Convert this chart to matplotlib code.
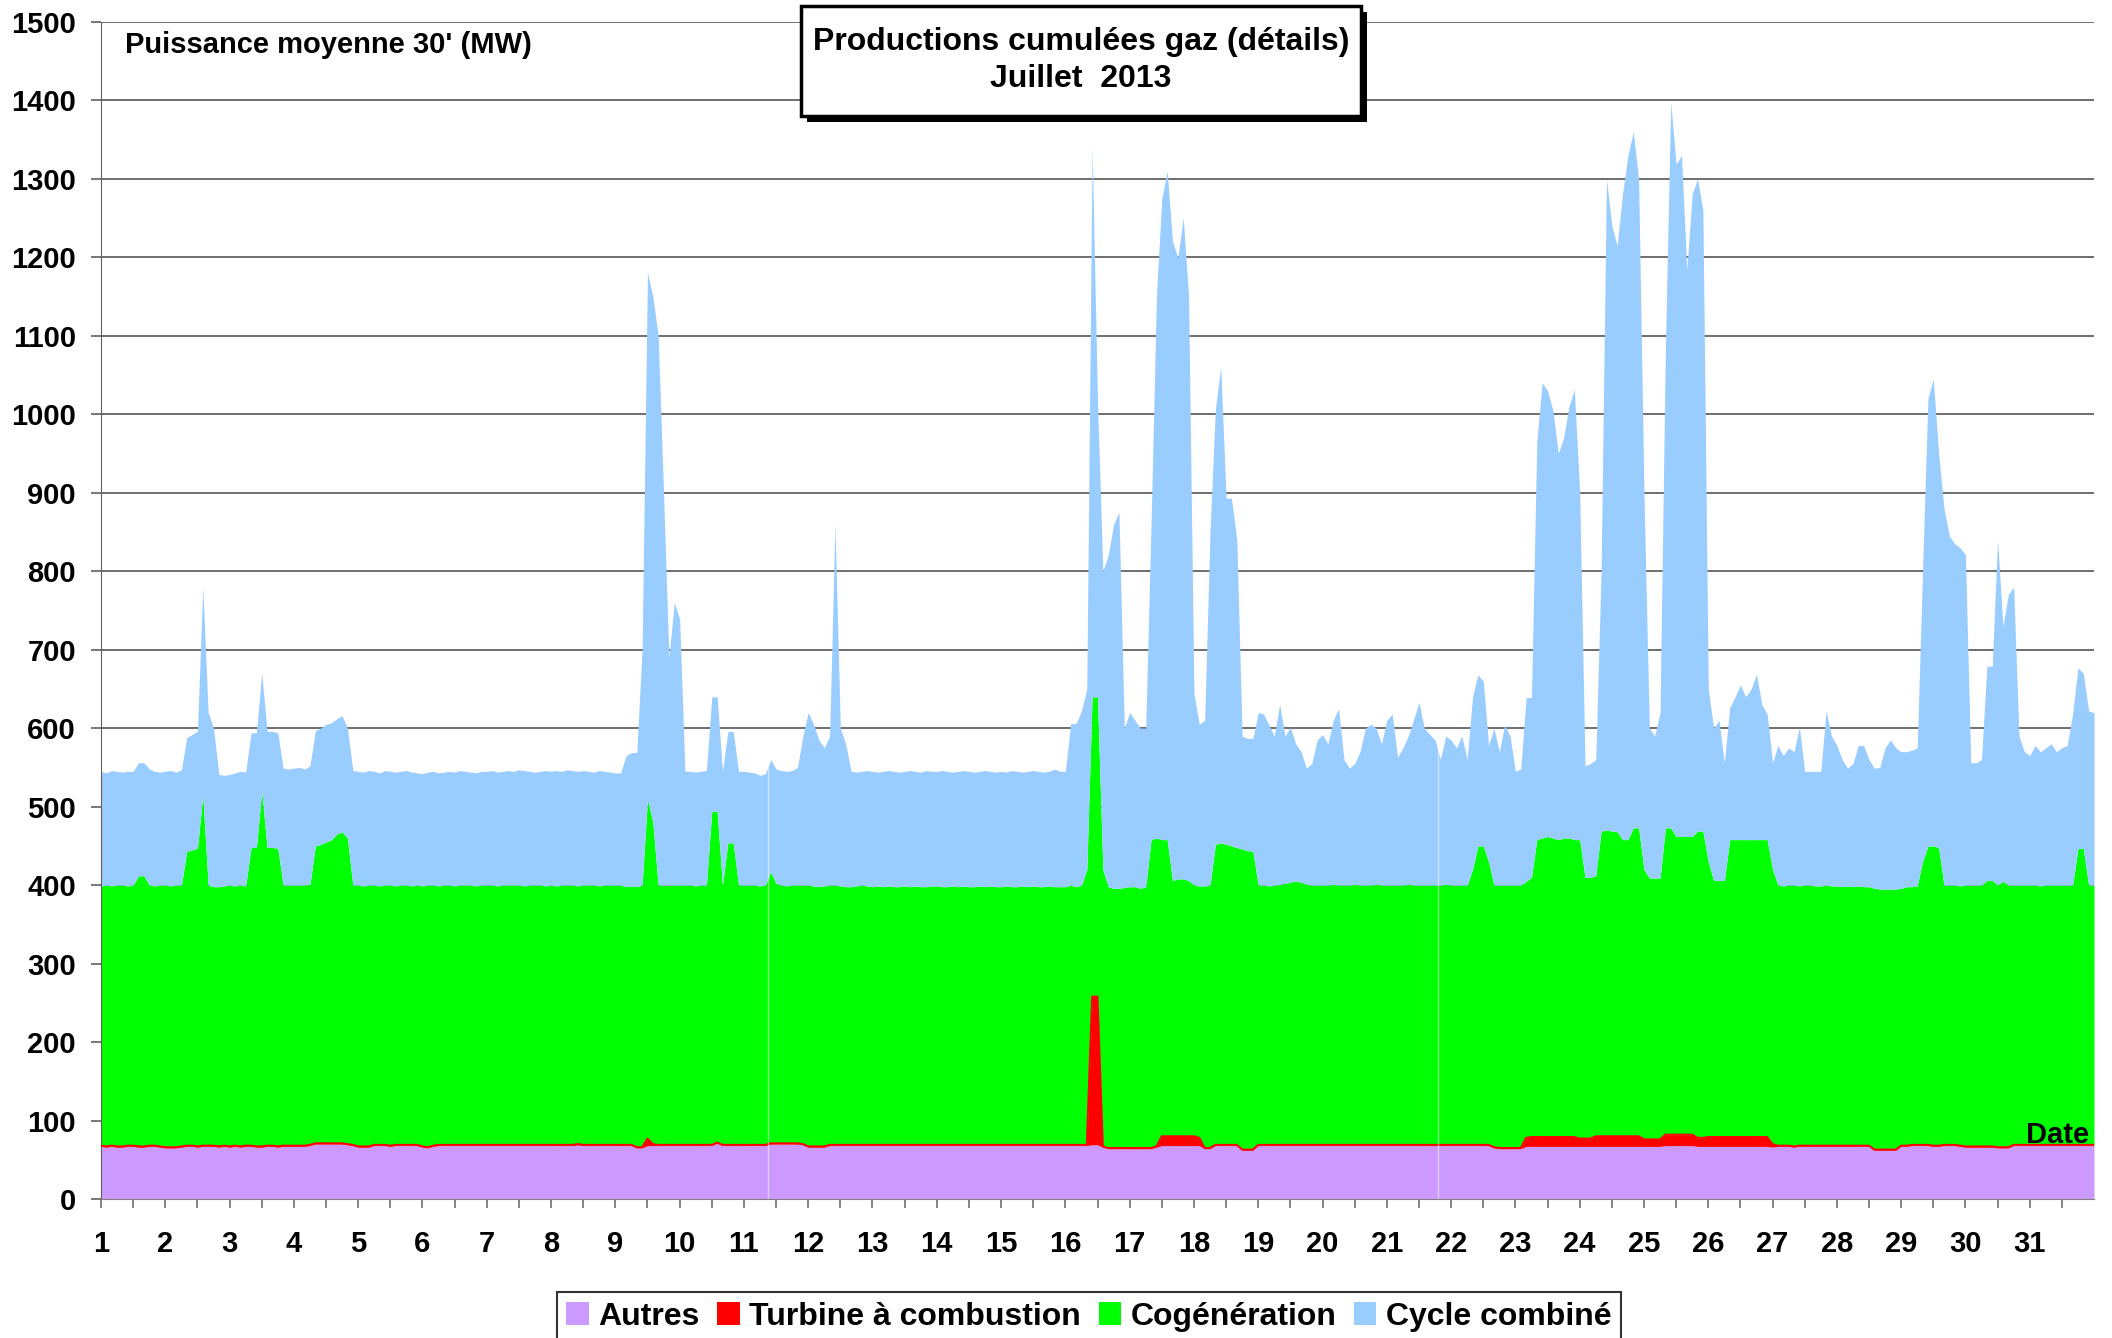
import numpy as np
import matplotlib
matplotlib.use('Agg')
import matplotlib.pyplot as plt
from matplotlib.patches import Patch, Rectangle

plt.rcParams['font.family'] = ['Liberation Sans', 'DejaVu Sans']
plt.rcParams['font.weight'] = 'bold'

# niveaux cumules (MW), un point toutes les 2 h, une ligne par jour
cumul_autres = [
    67, 66, 67, 66, 66, 67, 67, 66, 66, 67, 67, 66,
    65, 65, 65, 66, 67, 67, 66, 67, 67, 67, 66, 67,
    66, 67, 66, 67, 67, 66, 66, 67, 67, 66, 67, 67,
    67, 67, 67, 68, 70, 70, 70, 70, 70, 70, 69, 68,
    66, 66, 66, 68, 68, 68, 67, 68, 68, 68, 68, 68,
    66, 65, 67, 68, 68, 68, 68, 68, 68, 68, 68, 68,
    68, 68, 68, 68, 68, 68, 68, 68, 68, 68, 68, 68,
    68, 68, 68, 68, 68, 69, 68, 68, 68, 68, 68, 68,
    68, 68, 68, 68, 65, 65, 68, 68, 68, 68, 68, 68,
    68, 68, 68, 68, 68, 68, 68, 71, 68, 68, 68, 68,
    68, 68, 68, 68, 68, 70, 70, 70, 70, 70, 70, 69,
    66, 66, 66, 66, 68, 68, 68, 68, 68, 68, 68, 68,
    68, 68, 68, 68, 68, 68, 68, 68, 68, 68, 68, 68,
    68, 68, 68, 68, 68, 68, 68, 68, 68, 68, 68, 68,
    68, 68, 68, 68, 68, 68, 68, 68, 68, 68, 68, 68,
    68, 68, 68, 68, 68, 69, 69, 66, 64, 64, 64, 64,
    64, 64, 64, 64, 64, 66, 68, 68, 68, 68, 68, 68,
    68, 68, 64, 64, 68, 68, 68, 68, 68, 62, 62, 62,
    68, 68, 68, 68, 68, 68, 68, 68, 68, 68, 68, 68,
    68, 68, 68, 68, 68, 68, 68, 68, 68, 68, 68, 68,
    68, 68, 68, 68, 68, 68, 68, 68, 68, 68, 68, 68,
    68, 68, 68, 68, 68, 68, 68, 68, 65, 64, 64, 64,
    64, 64, 67, 67, 67, 67, 67, 67, 67, 67, 67, 67,
    67, 67, 67, 67, 67, 67, 67, 67, 67, 67, 67, 67,
    67, 67, 67, 67, 68, 68, 68, 68, 68, 68, 67, 67,
    67, 67, 67, 67, 67, 67, 67, 67, 67, 67, 67, 67,
    66, 67, 67, 67, 66, 67, 67, 67, 67, 67, 67, 67,
    67, 67, 67, 67, 67, 67, 67, 62, 62, 62, 62, 62,
    67, 67, 68, 68, 68, 68, 67, 67, 68, 68, 68, 67,
    66, 66, 66, 66, 66, 66, 65, 65, 65, 68, 68, 68,
    68, 68, 68, 68, 68, 68, 68, 68, 68, 68, 68, 68,
    68,
]

cumul_tac = [
    68, 67, 68, 67, 67, 68, 68, 67, 67, 68, 68, 67,
    66, 66, 66, 67, 68, 68, 67, 68, 68, 68, 67, 68,
    67, 68, 67, 68, 68, 67, 67, 68, 68, 67, 68, 68,
    68, 68, 68, 69, 71, 71, 71, 71, 71, 71, 70, 69,
    67, 67, 67, 69, 69, 69, 68, 69, 69, 69, 69, 69,
    67, 66, 68, 69, 69, 69, 69, 69, 69, 69, 69, 69,
    69, 69, 69, 69, 69, 69, 69, 69, 69, 69, 69, 69,
    69, 69, 69, 69, 69, 70, 69, 69, 69, 69, 69, 69,
    69, 69, 69, 69, 66, 66, 77, 70, 69, 69, 69, 69,
    69, 69, 69, 69, 69, 69, 69, 72, 69, 69, 69, 69,
    69, 69, 69, 69, 69, 71, 71, 71, 71, 71, 71, 70,
    67, 67, 67, 67, 69, 69, 69, 69, 69, 69, 69, 69,
    69, 69, 69, 69, 69, 69, 69, 69, 69, 69, 69, 69,
    69, 69, 69, 69, 69, 69, 69, 69, 69, 69, 69, 69,
    69, 69, 69, 69, 69, 69, 69, 69, 69, 69, 69, 69,
    69, 69, 69, 69, 69, 258, 258, 67, 65, 65, 65, 65,
    65, 65, 65, 65, 65, 67, 80, 80, 80, 80, 80, 80,
    80, 78, 65, 65, 69, 69, 69, 69, 69, 63, 63, 63,
    69, 69, 69, 69, 69, 69, 69, 69, 69, 69, 69, 69,
    69, 69, 69, 69, 69, 69, 69, 69, 69, 69, 69, 69,
    69, 69, 69, 69, 69, 69, 69, 69, 69, 69, 69, 69,
    69, 69, 69, 69, 69, 69, 69, 69, 66, 65, 65, 65,
    65, 65, 78, 79, 79, 79, 79, 79, 79, 79, 79, 79,
    77, 77, 77, 80, 80, 80, 80, 80, 80, 80, 80, 80,
    76, 76, 76, 76, 82, 82, 82, 82, 82, 82, 78, 78,
    79, 79, 79, 79, 79, 79, 79, 79, 79, 79, 79, 79,
    70, 68, 68, 68, 67, 68, 68, 68, 68, 68, 68, 68,
    68, 68, 68, 68, 68, 68, 68, 63, 63, 63, 63, 63,
    68, 68, 69, 69, 69, 69, 68, 68, 69, 69, 69, 68,
    67, 67, 67, 67, 67, 67, 66, 66, 66, 69, 69, 69,
    69, 69, 69, 69, 69, 69, 69, 69, 69, 69, 69, 69,
    69,
]

cumul_cogen = [
    399, 400, 399, 400, 400, 399, 400, 412, 412, 400, 399, 400,
    400, 399, 400, 400, 443, 445, 447, 515, 400, 398, 398, 399,
    400, 399, 400, 399, 448, 448, 520, 448, 448, 447, 400, 400,
    400, 400, 400, 401, 450, 452, 455, 458, 465, 468, 460, 400,
    400, 399, 400, 400, 399, 400, 400, 399, 400, 400, 399, 400,
    399, 400, 400, 399, 400, 400, 399, 400, 400, 400, 399, 400,
    400, 400, 399, 400, 400, 400, 400, 399, 400, 400, 400, 399,
    400, 399, 400, 400, 400, 399, 400, 400, 400, 399, 400, 400,
    400, 400, 398, 399, 398, 400, 510, 480, 400, 400, 400, 400,
    400, 400, 400, 399, 400, 400, 494, 494, 400, 454, 454, 400,
    400, 400, 400, 399, 400, 417, 402, 400, 399, 400, 400, 400,
    400, 399, 398, 399, 400, 400, 399, 398, 398, 399, 400, 399,
    398, 399, 398, 399, 398, 398, 399, 398, 399, 398, 398, 399,
    399, 398, 398, 399, 398, 399, 398, 398, 399, 398, 399, 398,
    398, 399, 398, 398, 399, 398, 399, 398, 398, 399, 398, 398,
    398, 400, 398, 400, 420, 640, 640, 420, 398, 396, 396, 397,
    398, 398, 396, 398, 458, 460, 458, 458, 406, 408, 408, 406,
    400, 399, 399, 400, 452, 454, 452, 450, 448, 446, 444, 443,
    400, 400, 399, 400, 401, 402, 404, 405, 404, 401, 400, 400,
    400, 400, 401, 400, 400, 400, 401, 400, 400, 400, 401, 400,
    400, 400, 400, 400, 401, 400, 400, 400, 400, 400, 400, 401,
    400, 400, 400, 400, 420, 450, 450, 430, 400, 400, 400, 400,
    400, 400, 405, 410, 458, 460, 462, 460, 458, 460, 460, 458,
    458, 410, 410, 412, 469, 470, 469, 468, 458, 458, 473, 473,
    420, 409, 409, 409, 473, 473, 462, 462, 462, 462, 469, 469,
    430, 406, 406, 406, 458, 458, 458, 458, 458, 458, 458, 458,
    420, 400, 399, 400, 400, 399, 400, 400, 399, 399, 400, 399,
    399, 398, 399, 398, 399, 398, 398, 396, 395, 395, 395, 395,
    396, 398, 398, 399, 430, 450, 450, 448, 400, 400, 400, 399,
    400, 400, 400, 400, 406, 406, 400, 405, 400, 400, 400, 400,
    400, 400, 399, 400, 400, 400, 400, 400, 400, 447, 447, 400,
    400,
]

cumul_cycle = [
    545, 543, 546, 545, 544, 545, 545, 556, 556, 548, 545, 544,
    545, 546, 544, 547, 588, 592, 596, 780, 620, 600, 541, 540,
    541, 543, 545, 544, 594, 594, 670, 596, 596, 594, 549, 548,
    549, 550, 548, 552, 597, 600, 605, 607, 612, 616, 600, 546,
    545, 544, 546, 545, 543, 546, 545, 544, 545, 546, 544, 543,
    542, 544, 545, 543, 544, 545, 544, 546, 545, 544, 543, 545,
    545, 546, 544, 545, 546, 545, 547, 546, 545, 544, 545, 546,
    545, 546, 545, 547, 546, 545, 546, 545, 544, 546, 545, 544,
    543, 543, 565, 569, 569, 700, 1181, 1150, 1100, 900, 690, 760,
    739, 545, 545, 544, 545, 546, 640, 640, 545, 596, 596, 545,
    545, 544, 543, 540, 542, 560, 548, 546, 545, 546, 550, 590,
    620, 605, 585, 575, 590, 860, 600, 580, 545, 544, 545, 546,
    545, 544, 545, 546, 545, 544, 545, 546, 545, 544, 546, 545,
    545, 546, 545, 544, 545, 546, 545, 544, 545, 546, 545, 544,
    545, 544, 546, 545, 544, 545, 546, 545, 544, 545, 548, 545,
    545, 606, 606, 622, 650, 1340, 1016, 800, 820, 860, 875, 600,
    620, 610, 600, 600, 860, 1150, 1275, 1310, 1220, 1200, 1250, 1150,
    644, 605, 610, 850, 1007, 1060, 893, 893, 840, 590, 587, 587,
    620, 618, 604, 590, 630, 590, 601, 580, 570, 549, 555, 585,
    592, 580, 610, 625, 560, 549, 555, 570, 600, 605, 600, 580,
    610, 618, 563, 575, 590, 611, 633, 600, 592, 585, 560, 590,
    585, 575, 590, 560, 640, 668, 660, 578, 600, 570, 604, 590,
    545, 548, 639, 639, 966, 1040, 1030, 1005, 950, 970, 1010, 1032,
    900, 552, 555, 560, 800, 1300, 1240, 1215, 1281, 1330, 1360, 1300,
    900, 600, 590, 620, 1085, 1398, 1319, 1330, 1184, 1281, 1300, 1260,
    650, 600, 610, 556, 626, 640, 655, 640, 650, 669, 630, 618,
    556, 578, 565, 575, 570, 601, 545, 545, 545, 545, 622, 590,
    578, 560, 549, 555, 578, 578, 560, 549, 550, 575, 585, 575,
    570, 570, 572, 575, 800, 1020, 1045, 950, 880, 845, 835, 830,
    821, 556, 556, 560, 679, 679, 840, 730, 770, 780, 590, 570,
    565, 578, 570, 575, 580, 570, 575, 578, 618, 677, 670, 622,
    620,
]

series = ['Autres', 'Turbine à combustion', 'Cogénération', 'Cycle combiné']
couleurs = ['#CC99FF', '#FF0000', '#00FF00', '#99CCFF']
jours = list(range(1, 32))
coupures = [11.38, 21.79]

t = 1 + np.arange(len(cumul_cycle)) / 12.0
niveaux = [np.zeros(len(t)), np.array(cumul_autres), np.array(cumul_tac),
           np.array(cumul_cogen), np.array(cumul_cycle)]

W, H = 2112, 1338
fig = plt.figure(figsize=(W / 100, H / 100), dpi=100)
ax = fig.add_axes([101 / W, 1 - 1199 / H, (2094 - 101) / W, (1199 - 22) / H])

for i, c in enumerate(couleurs):
    ax.fill_between(t, niveaux[i], niveaux[i + 1], color=c, lw=0, zorder=2)
ax.plot(t, niveaux[2], color='#FF0000', lw=1.4, zorder=3)
for c in coupures:
    ax.vlines(c, 0, np.interp(c, t, niveaux[4]), color='white', lw=1, alpha=0.5, zorder=4)

ax.set_xlim(1, 32)
ax.set_ylim(0, 1500)
ax.set_yticks(np.arange(0, 1501, 100))
ax.set_xticks(jours)
ax.set_xticks(np.arange(1.5, 32, 1), minor=True)
ax.yaxis.grid(True, color='#555555', lw=1.2, zorder=0)
ax.set_axisbelow(True)
for s in ['top', 'right']:
    ax.spines[s].set_visible(False)
ax.spines['left'].set_color('#606060')
ax.spines['bottom'].set_color('#808080')
ax.tick_params(axis='y', direction='out', length=7, width=1.2, color='#606060',
               pad=11, labelsize=21)
ax.tick_params(axis='x', which='both', direction='out', length=6.5, width=1.2,
               color='#707070', pad=16, labelsize=21)
for lab in ax.get_xticklabels() + ax.get_yticklabels():
    lab.set_fontweight('bold')

# titre encadre avec ombre
bx, by, bw, bh = 801 / W, 1 - 116 / H, 560 / W, 110 / H
fig.patches.append(Rectangle((bx + 6 / W, by - 6 / H), bw, bh, transform=fig.transFigure,
                             facecolor='black', edgecolor='black', lw=0, zorder=5))
fig.patches.append(Rectangle((bx, by), bw, bh, transform=fig.transFigure,
                             facecolor='white', edgecolor='black', lw=2.5, zorder=6))
fig.text(1081 / W, 1 - 50 / H, 'Productions cumulées gaz (détails)', ha='center',
         va='baseline', fontsize=23, fontweight='bold', zorder=7)
fig.text(1081 / W, 1 - 87 / H, 'Juillet  2013', ha='center', va='baseline',
         fontsize=23, fontweight='bold', zorder=7)

fig.text(125 / W, 1 - 53 / H, "Puissance moyenne 30' (MW)", ha='left', va='baseline',
         fontsize=21, fontweight='bold')
fig.text(2089 / W, 1 - 1143 / H, 'Date', ha='right', va='baseline',
         fontsize=21, fontweight='bold', zorder=8)

handles = [Patch(facecolor=c, edgecolor='none', label=s) for s, c in zip(series, couleurs)]
leg = fig.legend(handles=handles, loc='upper center', bbox_to_anchor=(1089 / W, 1 - 1292 / H),
                 ncol=4, fontsize=23, frameon=True, fancybox=False, edgecolor='black',
                 handlelength=0.7, handleheight=0.7, handletextpad=0.3, columnspacing=0.55,
                 borderpad=0.3, borderaxespad=0)
leg.get_frame().set_linewidth(1.5)
for txt in leg.get_texts():
    txt.set_fontweight('bold')

fig.savefig('out.png', dpi=100)
